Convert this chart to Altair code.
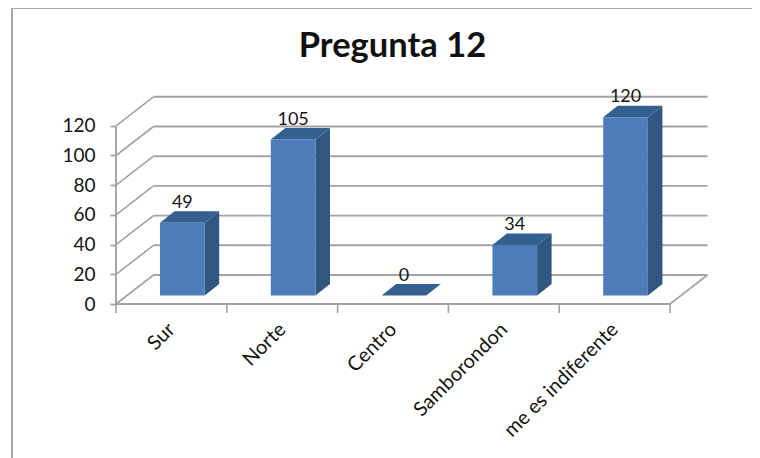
import json
import altair as alt
import pandas as pd

categories = ["Sur", "Norte", "Centro", "Samborondon", "me es indiferente"]
values = [49, 105, 0, 34, 120]
y_ticks = [0, 20, 40, 60, 80, 100, 120]
title_text = "Pregunta 12"

W, H = 744, 450
FONT = "Lato"
GRID = "#a3a3a3"
INK = "#141414"
FRONT, SIDE, TOP = "#4c7dba", "#31567f", "#34608f"

PX_X = 110.8          # pixels per category
PX_Y = 1.485          # pixels per unit
X0, Y0 = 108, 296     # origin inside the canvas
x_dom = [-X0 / PX_X, (W - X0) / PX_X]
y_dom = [(Y0 - H) / PX_Y, Y0 / PX_Y]

# 3D projection, in data units
WALL_DX, WALL_DY = 37.5 / PX_X, 29 / PX_Y
BAR_DX, BAR_DY = 14.5 / PX_X, 11.5 / PX_Y
BAR_L, BAR_W = 44 / PX_X, 44.7 / PX_X
BAR_B = 8.5 / PX_Y
LABEL_UP = 20 / PX_Y
N = len(categories)

centers = [i + 0.5 for i in range(N)]
label_expr = "%s[datum.value - 0.5]" % json.dumps(categories)

x_axis = alt.Axis(
    values=centers, labelExpr=label_expr, orient="bottom", offset=Y0 - H,
    ticks=False, domain=False, grid=False, labelAngle=-45, labelAlign="right",
    labelBaseline="middle", labelPadding=22, labelFont=FONT, labelFontSize=20,
    labelColor=INK, labelOverlap=False, labelFlush=False, labelBound=False)
y_axis = alt.Axis(
    values=y_ticks, orient="left", offset=-X0, domain=False, grid=False,
    tickColor=GRID, tickSize=6, tickWidth=1.8, labelPadding=15, labelFont=FONT,
    labelFontSize=19, labelColor=INK, labelOverlap=False, labelFlush=False,
    labelBound=False)

xs = alt.Scale(domain=x_dom, range=[0, W], nice=False, zero=False)
ys = alt.Scale(domain=y_dom, range=[H, 0], nice=False, zero=False)
X = lambda f="x": alt.X(f"{f}:Q", scale=xs, axis=x_axis, title=None)
Y = lambda f="y": alt.Y(f"{f}:Q", scale=ys, axis=y_axis, title=None, stack=None)

rows = [{"i": i, "cat": c, "v": v, "xl": i + BAR_L, "xr": i + BAR_L + BAR_W,
         "xc": i + BAR_L + BAR_W / 2, "b": BAR_B, "t": BAR_B + v,
         "ly": BAR_B + v + LABEL_UP}
        for i, (c, v) in enumerate(zip(categories, values))]
bars = pd.DataFrame(rows)

side = pd.DataFrame(
    [{"cat": r["cat"], "x": r["xr"], "y": r["b"], "y2": r["t"]} for r in rows]
    + [{"cat": r["cat"], "x": r["xr"] + BAR_DX, "y": r["b"] + BAR_DY, "y2": r["t"] + BAR_DY} for r in rows]
)
top = pd.DataFrame(
    [{"cat": r["cat"], "x": r["xl"], "x2": r["xr"], "y": r["t"]} for r in rows]
    + [{"cat": r["cat"], "x": r["xl"] + BAR_DX, "x2": r["xr"] + BAR_DX, "y": r["t"] + BAR_DY} for r in rows]
)

ticks = pd.DataFrame({"v": y_ticks})
ticks["x0"] = 0.0
ticks["x1"] = WALL_DX
ticks["x2"] = N + WALL_DX
ticks["yb"] = ticks["v"] + WALL_DY

back = alt.Chart(ticks).mark_rule(color=GRID, strokeWidth=1.9).encode(
    x=X("x1"), x2="x2:Q", y=Y("yb"))
left_wall = alt.Chart(ticks).mark_rule(color=GRID, strokeWidth=1.6).encode(
    x=X("x0"), x2="x1:Q", y=Y("v"), y2="yb:Q")

front_axis = alt.Chart(pd.DataFrame({"x": [0.0], "y": [0], "y2": [max(y_ticks)]})).mark_rule(
    color=GRID, strokeWidth=1.9).encode(x=X(), y=Y(), y2="y2:Q")
floor_front = alt.Chart(pd.DataFrame({"x": [0.0], "x2": [float(N)], "y": [0]})).mark_rule(
    color=GRID, strokeWidth=1.9).encode(x=X(), x2="x2:Q", y=Y())
floor_right = alt.Chart(pd.DataFrame({"x": [float(N)], "x2": [N + WALL_DX], "y": [0], "y2": [WALL_DY]})).mark_rule(
    color=GRID, strokeWidth=1.6).encode(x=X(), x2="x2:Q", y=Y(), y2="y2:Q")
x_ticks = alt.Chart(pd.DataFrame({"x": [float(i) for i in range(N + 1)], "y": [0.0] * (N + 1),
                                  "y2": [-9 / PX_Y] * (N + 1)})).mark_rule(
    color=GRID, strokeWidth=1.6).encode(x=X(), y=Y(), y2="y2:Q")

side_l = alt.Chart(side).mark_area(color=SIDE, orient="vertical").encode(
    x=X(), y=Y(), y2="y2:Q", detail="cat:N")
top_l = alt.Chart(top).mark_area(color=TOP, orient="horizontal").encode(
    y=Y(), x=X(), x2="x2:Q", detail="cat:N")
front_l = alt.Chart(bars[bars.v > 0]).mark_rect(color=FRONT).encode(
    x=X("xl"), x2="xr:Q", y=Y("b"), y2="t:Q")
labels = alt.Chart(bars).mark_text(font=FONT, fontSize=18, color=INK, baseline="middle").encode(
    x=X("xc"), y=Y("ly"), text="v:Q")

frame_l = alt.Chart(pd.DataFrame({"x": [x_dom[0] + 4 / PX_X], "y": [y_dom[0]], "y2": [y_dom[1]]})).mark_rule(
    color="#a6a6a6", strokeWidth=2).encode(x=X(), y=Y(), y2="y2:Q")
frame_t = alt.Chart(pd.DataFrame({"x": [x_dom[0] + 4 / PX_X], "x2": [x_dom[1]], "y": [y_dom[1]]})).mark_rule(
    color="#a6a6a6", strokeWidth=2).encode(x=X(), x2="x2:Q", y=Y())

chart = alt.layer(
    frame_l, frame_t, back, left_wall, front_axis, floor_front, floor_right, x_ticks,
    side_l, top_l, front_l, labels,
).properties(
    width=W, height=H, padding=0,
    autosize=alt.AutoSizeParams(type="none"),
    background="white",
    title=alt.TitleParams(title_text, font=FONT, fontSize=34.5, fontWeight="bold", color="#111111",
                          anchor="middle", dx=12.5, offset=-57),
).configure_view(stroke=None)

chart.save("out.html", embed_options={"renderer": "svg", "actions": False})
